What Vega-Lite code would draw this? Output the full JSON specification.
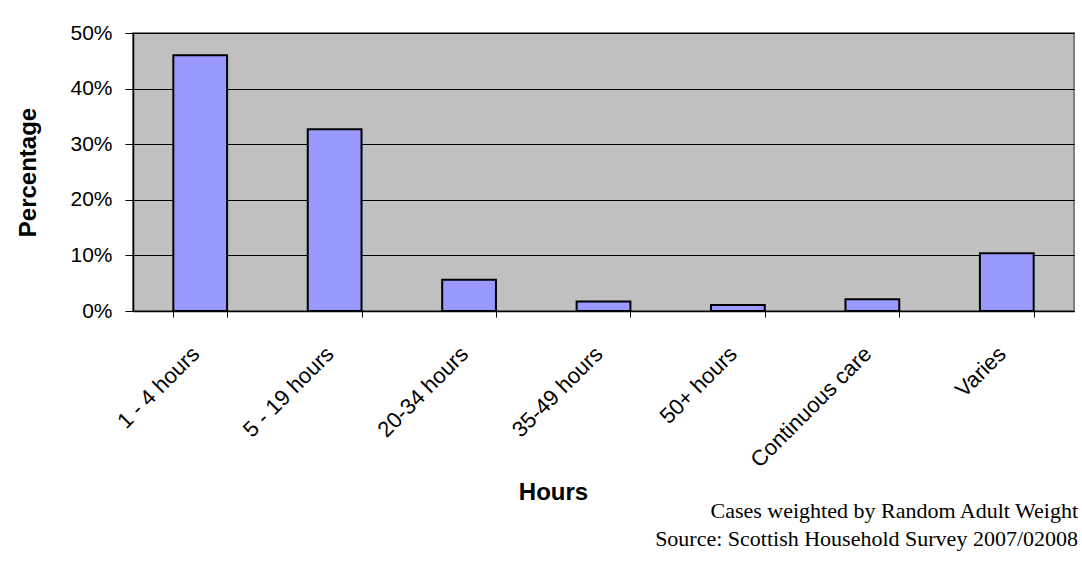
{
  "$schema": "https://vega.github.io/schema/vega-lite/v6.json",
  "width": 941,
  "height": 278,
  "autosize": {"type": "none"},
  "padding": {"left": 133, "top": 33, "right": 8, "bottom": 250},
  "background": "white",
  "config": {
    "font": "Liberation Sans",
    "view": {"fill": "#C0C0C0", "stroke": "#808080", "strokeWidth": 2}
  },
  "title": {
    "text": "Cases weighted by Random Adult Weight",
    "subtitle": "Source: Scottish Household Survey 2007/02008",
    "orient": "bottom",
    "anchor": "end",
    "font": "Liberation Serif",
    "fontSize": 22,
    "fontWeight": "normal",
    "color": "black",
    "subtitleFont": "Liberation Serif",
    "subtitleFontSize": 22,
    "subtitleColor": "black",
    "subtitlePadding": 6,
    "dx": 4,
    "offset": -3
  },
  "data": {
    "values": [
      {"Hours": "1 - 4 hours", "Percentage": 0.46},
      {"Hours": "5 - 19 hours", "Percentage": 0.327},
      {"Hours": "20-34 hours", "Percentage": 0.056},
      {"Hours": "35-49 hours", "Percentage": 0.017},
      {"Hours": "50+ hours", "Percentage": 0.011},
      {"Hours": "Continuous care", "Percentage": 0.021},
      {"Hours": "Varies", "Percentage": 0.104}
    ]
  },
  "mark": {"type": "bar", "fill": "#9999FF", "stroke": "black", "strokeWidth": 2},
  "encoding": {
    "x": {
      "field": "Hours",
      "type": "nominal",
      "sort": null,
      "scale": {"paddingInner": 0.6, "paddingOuter": 0.3},
      "axis": {
        "title": "Hours",
        "titleFontSize": 24,
        "titleFontWeight": "bold",
        "titleColor": "black",
        "titleX": 420,
        "titleY": 181,
        "titleBaseline": "middle",
        "labelAngle": -45,
        "labelAlign": "right",
        "labelBaseline": "middle",
        "labelFontSize": 22,
        "labelColor": "black",
        "labelPadding": 33,
        "labelOffset": -5,
        "tickBand": "extent",
        "tickSize": 6,
        "tickColor": "black",
        "domainColor": "black",
        "domainWidth": 1.5,
        "grid": false
      }
    },
    "y": {
      "field": "Percentage",
      "type": "quantitative",
      "scale": {"domain": [0, 0.5]},
      "axis": {
        "title": "Percentage",
        "titleFontSize": 24,
        "titleFontWeight": "bold",
        "titleColor": "black",
        "titleX": -105,
        "titleBaseline": "middle",
        "format": "~%",
        "values": [0, 0.1, 0.2, 0.3, 0.4, 0.5],
        "labelFontSize": 21,
        "labelColor": "black",
        "labelPadding": 13,
        "tickSize": 8,
        "tickColor": "black",
        "domainColor": "black",
        "domainWidth": 1.5,
        "grid": true,
        "gridColor": "black",
        "gridWidth": 1
      }
    }
  }
}
